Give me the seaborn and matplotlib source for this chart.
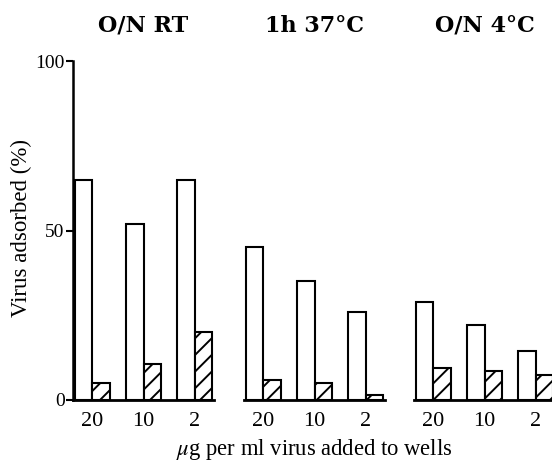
import matplotlib
matplotlib.use("Agg")
import matplotlib.pyplot as plt
import seaborn as sns
import pandas as pd

# ---- data ----
conditions = ["O/N RT", "1h 37°C", "O/N 4°C"]
concentrations = ["20", "10", "2"]
open_values = {
    "O/N RT": [65, 52, 65],
    "1h 37°C": [45, 35, 26],
    "O/N 4°C": [29, 22, 14.5],
}
hatched_values = {
    "O/N RT": [5, 10.5, 20],
    "1h 37°C": [6, 5, 1.5],
    "O/N 4°C": [9.5, 8.5, 7.5],
}
y_ticks = [0, 50, 100]
y_label = "Virus adsorbed (%)"
x_label = "$\\mu$g per ml virus added to wells"

rows = []
for c in conditions:
    for i, conc in enumerate(concentrations):
        rows.append({"cond": c, "conc": conc, "kind": "open", "value": open_values[c][i]})
        rows.append({"cond": c, "conc": conc, "kind": "hatched", "value": hatched_values[c][i]})
df = pd.DataFrame(rows)

sns.set_theme(style="white")
plt.rcParams["font.family"] = ["Liberation Serif", "DejaVu Serif"]
plt.rcParams["hatch.linewidth"] = 1.4
plt.rcParams["mathtext.fontset"] = "stix"
for key in ["text.color", "axes.labelcolor", "xtick.color", "ytick.color", "axes.edgecolor"]:
    plt.rcParams[key] = "black"

W, H = 552, 466
fig = plt.figure(figsize=(W / 100, H / 100), dpi=100)

panel_left = [73, 244, 414]
panel_w = 141
y0_px, y100_px = 400, 61

for k, c in enumerate(conditions):
    ax = fig.add_axes([panel_left[k] / W, (H - y0_px) / H, panel_w / W, (y0_px - y100_px) / H])
    sub = df[df["cond"] == c]
    sns.barplot(data=sub, x="conc", y="value", hue="kind", order=concentrations,
                hue_order=["open", "hatched"], palette=["white", "white"], saturation=1,
                edgecolor="black", linewidth=1.5, width=0.68, legend=False, ax=ax)
    for p in ax.containers[1]:
        p.set_hatch("//")
    ax.set_xlim(-0.37, 2.37)
    ax.set_ylim(0, 100)
    ax.set_xlabel("")
    ax.set_ylabel("")
    for s in ["top", "right"]:
        ax.spines[s].set_visible(False)
    ax.spines["bottom"].set_linewidth(2)
    ax.spines["bottom"].set_color("black")
    ax.tick_params(axis="x", length=0, pad=9, labelsize=16, colors="black")
    if k == 0:
        ax.spines["left"].set_linewidth(1.8)
        ax.spines["left"].set_color("black")
        ax.set_yticks(y_ticks)
        ax.tick_params(axis="y", length=5, width=1.5, direction="out", left=True,
                       labelsize=14, pad=1, colors="black")
    else:
        ax.spines["left"].set_visible(False)
        ax.set_yticks([])
    ax.set_title(c, fontsize=16, fontweight="bold", pad=21, color="black",
                 fontfamily=["DejaVu Serif"])
    ax.patch.set_alpha(0)

fig.text(21 / W, 1 - 228 / H, y_label, ha="center", va="center", rotation=90,
         fontsize=16.5, color="black")
fig.text(314 / W, 1 - 449 / H, x_label, ha="center", va="center", fontsize=16.3,
         color="black")

fig.savefig("out.png", dpi=100)
